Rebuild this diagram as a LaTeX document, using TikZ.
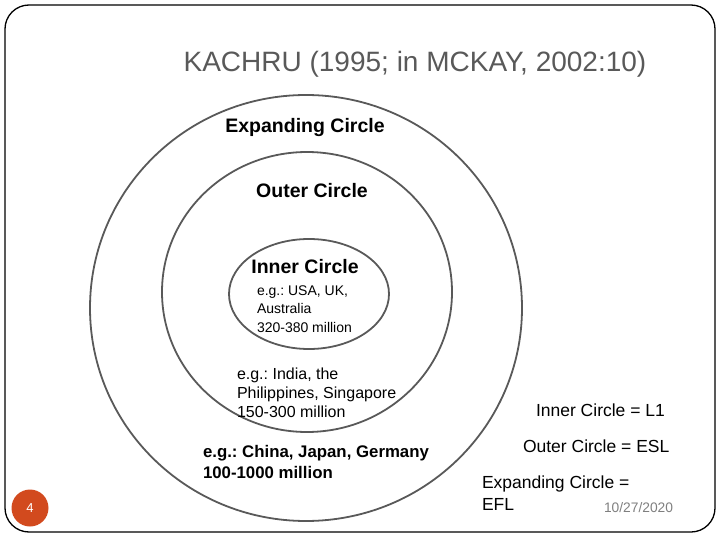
\documentclass[tikz,border=0pt]{standalone}
\usepackage{fontspec}
\setmainfont{Liberation Sans}
\frenchspacing
\definecolor{ringgray}{HTML}{595959}
\definecolor{titlegray}{HTML}{595959}
\definecolor{datagray}{HTML}{7F7F7F}
\definecolor{badge}{HTML}{D24A1E}
\tikzset{
  ring/.style={draw=ringgray, line width=1.8pt},
  lbl/.style={inner sep=0pt, outer sep=0pt, text=black},
  bigb/.style={lbl, font=\fontsize{19.5}{23}\selectfont\bfseries},
  ex/.style={lbl, align=left},
}
\begin{document}
\begin{tikzpicture}[x=1pt, y=-1pt]
\useasboundingbox (0,0) rectangle (720,540);
% frame
\draw[black, line width=1.3pt, rounded corners=24pt] (5,5) rectangle (715,532);
% rings
\draw[ring] (306,308) ellipse [x radius=216, y radius=213];
\draw[ring] (307,292) ellipse [x radius=145, y radius=140];
\draw[ring] (309,294) ellipse [x radius=80, y radius=55];
% title
\node[lbl, anchor=base, text=titlegray, font=\fontsize{28}{32}\selectfont] (title) at (415,72) {KACHRU (1995; in MCKAY, 2002:10)};
% ring labels
\node[bigb, anchor=base] (exp) at (305,133) {Expanding Circle};
\node[bigb, anchor=base] (out) at (312,198) {Outer Circle};
\node[bigb, anchor=base] (inn) at (305,273) {Inner Circle};
% examples (anchor = baseline of last line)
\node[ex, anchor=base west, font=\fontsize{14}{18.5}\selectfont] (innex) at (257,332) {e.g.: USA, UK,\\Australia\\320-380 million};
\node[ex, anchor=base west, font=\fontsize{16}{19}\selectfont] (outex) at (237,417) {e.g.: India, the\\Philippines, Singapore\\150-300 million};
\node[ex, anchor=base west, font=\fontsize{16.8}{21}\selectfont\bfseries] (expex) at (203,478) {e.g.: China, Japan, Germany\\100-1000 million};
% legend
\node[lbl, anchor=base west, font=\fontsize{17.5}{22}\selectfont] (l1) at (536,416) {Inner Circle = L1};
\node[lbl, anchor=base west, font=\fontsize{17.5}{22}\selectfont] (l2) at (523,452) {Outer Circle = ESL};
\node[ex, anchor=base west, font=\fontsize{17.5}{22}\selectfont] (l3) at (482,510) {Expanding Circle =\\EFL};
% date
\node[lbl, anchor=base west, text=datagray, font=\fontsize{13.8}{16}\selectfont] (date) at (604,512) {10/27/2020};
% page badge
\node[circle, fill=badge, minimum size=37pt, inner sep=0pt, text=white, font=\fontsize{13}{15}\selectfont] (page) at (30,508) {4};
\end{tikzpicture}
\end{document}
